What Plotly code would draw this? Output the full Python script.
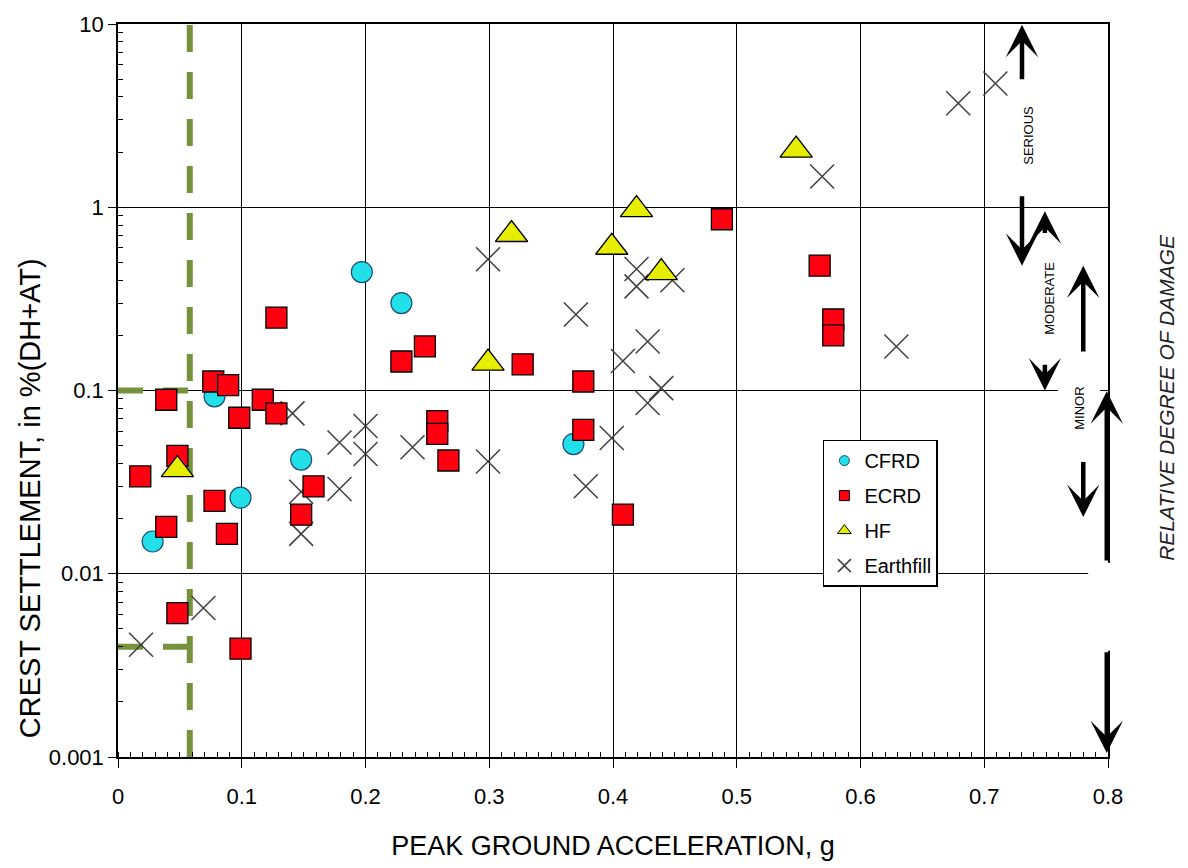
import math
import plotly.graph_objects as go

# ---- Data: peak ground acceleration (g) vs crest settlement (% of DH+AT) ----
cfrd_pga = [0.028, 0.078, 0.099, 0.148, 0.197, 0.229, 0.368]
cfrd_settle = [0.015, 0.093, 0.026, 0.042, 0.443, 0.30, 0.051]

ecrd_pga = [0.018, 0.039, 0.039, 0.048, 0.048, 0.077, 0.089, 0.078, 0.088, 0.098,
            0.099, 0.117, 0.128, 0.128, 0.148, 0.158, 0.229, 0.248, 0.258, 0.258,
            0.267, 0.327, 0.376, 0.376, 0.408, 0.488, 0.567, 0.578, 0.578]
ecrd_settle = [0.034, 0.089, 0.018, 0.044, 0.0061, 0.112, 0.107, 0.025, 0.0165, 0.071,
               0.0039, 0.089, 0.25, 0.075, 0.021, 0.030, 0.144, 0.174, 0.068, 0.058,
               0.0415, 0.139, 0.112, 0.061, 0.021, 0.86, 0.48, 0.244, 0.20]

hf_pga = [0.048, 0.299, 0.318, 0.399, 0.419, 0.439, 0.548]
hf_settle = [0.037, 0.141, 0.71, 0.605, 0.97, 0.44, 2.05]

earth_pga = [0.0186, 0.069, 0.141, 0.148, 0.148, 0.179, 0.179, 0.200, 0.200, 0.238,
             0.299, 0.299, 0.370, 0.378, 0.399, 0.408, 0.419, 0.419, 0.428, 0.428,
             0.439, 0.448, 0.569, 0.629, 0.679, 0.709]
earth_settle = [0.0041, 0.0065, 0.075, 0.028, 0.0165, 0.052, 0.029, 0.064, 0.045, 0.049,
                0.041, 0.52, 0.26, 0.030, 0.055, 0.145, 0.46, 0.37, 0.185, 0.0855,
                0.103, 0.40, 1.47, 0.174, 3.69, 4.73]

# threshold guide lines
guide_pga = 0.058
guide_settles = [0.1, 0.004]

# axis ticks
x_ticks = [0, 0.1, 0.2, 0.3, 0.4, 0.5, 0.6, 0.7, 0.8]
x_ticktext = ["0", "0.1", "0.2", "0.3", "0.4", "0.5", "0.6", "0.7", "0.8"]
y_ticks = [0.001, 0.01, 0.1, 1, 10]
y_ticktext = ["0.001", "0.01", "0.1", "1", "10"]

# damage-degree labels: (text, pga, settlement)
damage_labels = [("SERIOUS", 0.736, 2.48), ("MODERATE", 0.753, 0.32),
                 ("MINOR", 0.777, 0.080), ("NONE", 0.804, 0.00665)]
# damage-degree arrows: (pga, tail settlement, head settlement)
damage_arrows = [(0.7305, 4.9, 9.9), (0.7305, 1.17, 0.48), (0.749, 0.71, 0.95),
                 (0.780, 0.16, 0.48), (0.749, 0.141, 0.10), (0.799, 0.0116, 0.099),
                 (0.780, 0.0415, 0.0204), (0.799, 0.0038, 0.00105)]

FONT = "Liberation Sans Narrow, Arial Narrow, Liberation Sans, Arial, sans-serif"
GREEN = "#76923C"
X_GRAY = "#404040"

fig = go.Figure()

# guide lines
fig.add_trace(go.Scatter(x=[guide_pga, guide_pga], y=[0.001, 10], mode="lines",
                         line=dict(color=GREEN, width=6, dash="27px,20px"),
                         showlegend=False, hoverinfo="skip"))
for s in guide_settles:
    fig.add_trace(go.Scatter(x=[0, guide_pga], y=[s, s], mode="lines",
                             line=dict(color=GREEN, width=6, dash="25px,20px"),
                             showlegend=False, hoverinfo="skip"))

# data markers (drawing order: earthfill, CFRD, ECRD, HF)
fig.add_trace(go.Scatter(x=earth_pga, y=earth_settle, mode="markers", showlegend=False,
                         marker=dict(symbol="x-thin-open", size=24, color=X_GRAY,
                                     line=dict(color=X_GRAY, width=1.5))))
fig.add_trace(go.Scatter(x=cfrd_pga, y=cfrd_settle, mode="markers", showlegend=False,
                         marker=dict(symbol="circle", size=21, color="#22E0E8",
                                     line=dict(color="#1F4E79", width=1.2))))
fig.add_trace(go.Scatter(x=ecrd_pga, y=ecrd_settle, mode="markers", showlegend=False,
                         marker=dict(symbol="square", size=21, color="#FF0010",
                                     line=dict(color="black", width=1.3))))
fig.add_trace(go.Scatter(x=hf_pga, y=hf_settle, mode="markers", showlegend=False,
                         marker=dict(symbol="triangle-up", size=28, color="#E5EE00",
                                     line=dict(color="black", width=1.3))))

# legend entries
legend_specs = [
    ("CFRD", dict(symbol="circle", size=10, color="#22E0E8", line=dict(color="#1F4E79", width=1))),
    ("ECRD", dict(symbol="square", size=10, color="#FF0010", line=dict(color="black", width=1))),
    ("HF", dict(symbol="triangle-up", size=12, color="#E5EE00", line=dict(color="black", width=1))),
    ("Earthfill", dict(symbol="x-thin-open", size=13, color=X_GRAY, line=dict(color=X_GRAY, width=1.5))),
]
for name, mk in legend_specs:
    fig.add_trace(go.Scatter(x=[None], y=[None], mode="markers", name=name,
                             legendgroup=name, marker=mk))

annotations = []
for text, px, py in damage_labels:
    annotations.append(dict(text=text, x=px, y=math.log10(py), xref="x", yref="y",
                            showarrow=False, textangle=-90,
                            font=dict(family=FONT, size=13, color="black"),
                            bgcolor="white" if text == "NONE" else "rgba(0,0,0,0)"))
for px, tail, head in damage_arrows:
    annotations.append(dict(text="", x=px, y=math.log10(head), ax=px, ay=math.log10(tail),
                            xref="x", yref="y", axref="x", ayref="y",
                            showarrow=True, arrowhead=3, arrowsize=1.2, arrowwidth=4.5,
                            arrowcolor="black", standoff=0, startstandoff=0))
annotations.append(dict(text="RELATIVE DEGREE OF DAMAGE", x=1.0596, y=0.49,
                        xref="paper", yref="paper", showarrow=False, textangle=-90,
                        xanchor="center", yanchor="middle",
                        font=dict(family="Liberation Sans, Arial, sans-serif", size=21,
                                  color="#222222", style="italic")))
# y-axis title, set lower than the plot centre
annotations.append(dict(text="CREST SETTLEMENT, in %(DH+AT)", x=-0.0889, y=0.353,
                        xref="paper", yref="paper", showarrow=False, textangle=-90,
                        xanchor="center", yanchor="middle",
                        font=dict(family=FONT, size=29, color="black")))

shapes = [
    # breaks in the grid around the damage labels
    dict(type="rect", xref="paper", yref="paper", x0=0.9495, x1=0.992, y0=0.4945, y1=0.5015,
         fillcolor="white", line=dict(width=0), layer="above"),
    dict(type="rect", xref="paper", yref="paper", x0=0.98, x1=1.006, y0=0.145, y1=0.265,
         fillcolor="white", line=dict(width=0), layer="above"),
]

fig.update_layout(
    width=1188, height=868,
    margin=dict(l=118, r=80, t=18, b=111),
    paper_bgcolor="white", plot_bgcolor="white",
    font=dict(family=FONT, size=21, color="black"),
    showlegend=True,
    legend=dict(x=0.712, y=0.433, xanchor="left", yanchor="top",
                bordercolor="black", borderwidth=1.5, bgcolor="white",
                font=dict(family=FONT, size=20, color="black"),
                tracegroupgap=6, itemwidth=30),
    annotations=annotations,
    shapes=shapes,
    xaxis=dict(range=[0, 0.8], tickvals=x_ticks, ticktext=x_ticktext,
               ticks="outside", ticklen=9, tickwidth=1.3, tickcolor="black",
               showline=True, linecolor="black", linewidth=1.5, mirror=True,
               showgrid=True, gridcolor="black", gridwidth=1.4, zeroline=False,
               ticklabelstandoff=10, tickfont=dict(size=22),
               minor=dict(ticks="inside", ticklen=5, tickcolor="black", dtick=0.01,
                          showgrid=False),
               title=dict(text="PEAK GROUND ACCELERATION, g",
                          font=dict(family=FONT, size=27), standoff=28)),
    yaxis=dict(type="log", range=[-3, 1], tickvals=y_ticks, ticktext=y_ticktext,
               ticks="outside", ticklen=8, tickwidth=1.3, tickcolor="black",
               showline=True, linecolor="black", linewidth=1.5, mirror=True,
               showgrid=True, gridcolor="black", gridwidth=1.4, zeroline=False,
               tickfont=dict(size=22),
               minor=dict(ticks="inside", ticklen=5, tickcolor="black",
                          tickvals=[m * 10 ** e for e in range(-3, 1) for m in range(2, 10)],
                          showgrid=False)),
)

fig.write_html("out.html")
